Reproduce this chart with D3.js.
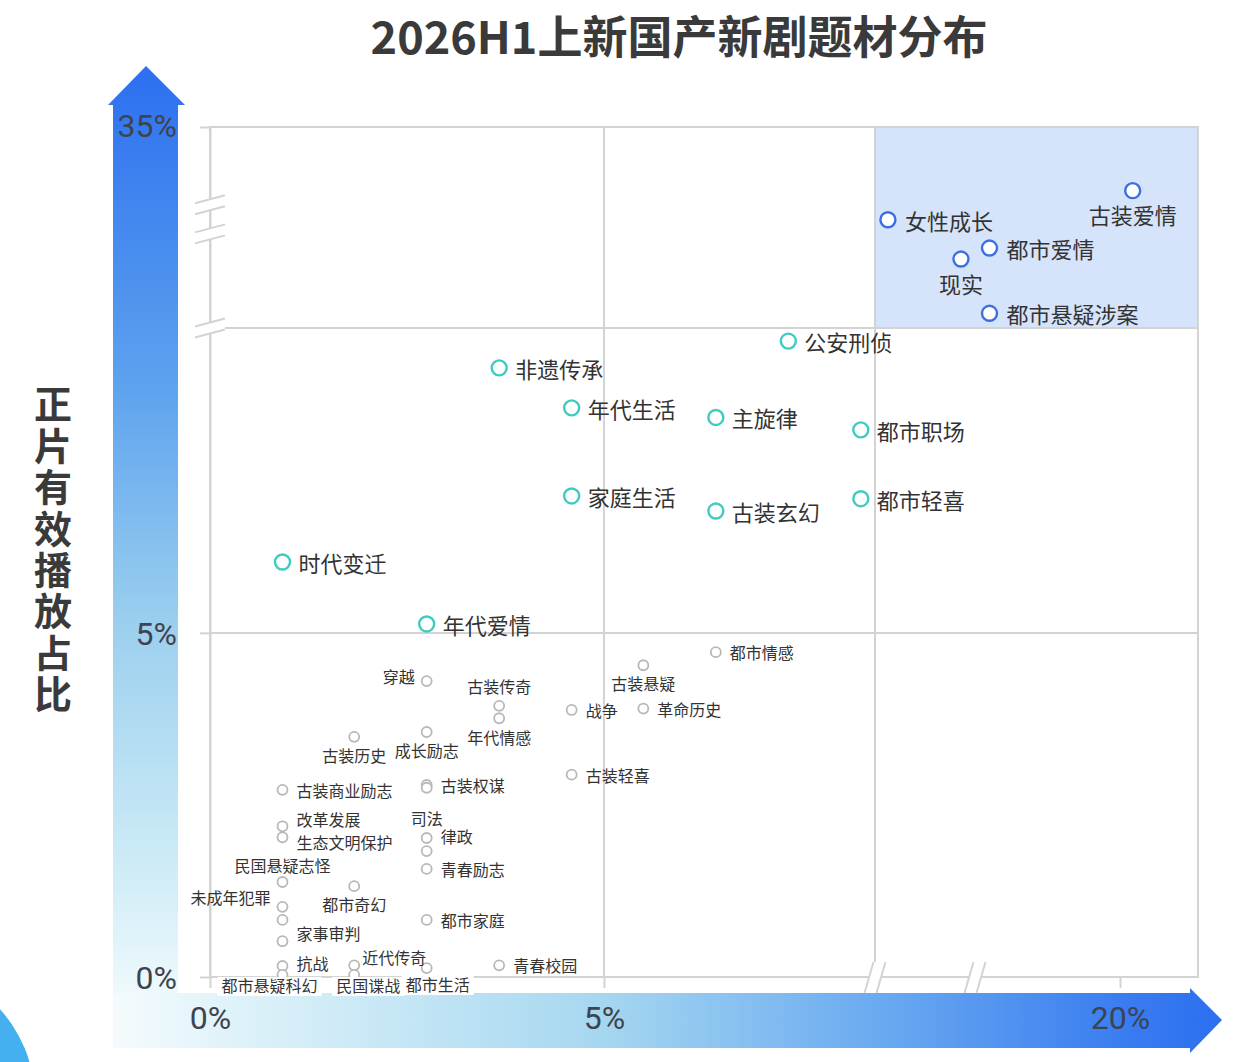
<!DOCTYPE html>
<html><head><meta charset="utf-8">
<script src="https://cdn.jsdelivr.net/npm/d3@7"></script>
<style>body{margin:0;background:#fff;} svg{display:block;}</style>
</head><body>
<svg id="chart" width="1234" height="1062"></svg>
<script>
// ---------- data ----------
const chartTitle = "2026H1上新国产新剧题材分布";
const yTitle = "正片有效播放占比";

const xTickValues = [0, 5, 20];
const xTickLabels = ["0%", "5%", "20%"];
const yTickValues = [0, 5, 35];
const yTickLabels = ["0%", "5%", "35%"];

// tier 1 (high share)
const topNames = ["古装爱情", "女性成长", "都市爱情", "现实", "都市悬疑涉案"];
const topX = [20.7, 8.9, 12.8, 11.5, 12.8];
const topY = [26.9, 23.2, 19.6, 18.2, 11.3];

// tier 2
const midNames = ["公安刑侦", "非遗传承", "年代生活", "主旋律", "都市职场", "家庭生活", "古装玄幻", "都市轻喜", "时代变迁", "年代爱情"];
const midX = [7.34, 3.67, 4.59, 6.42, 8.26, 4.59, 6.42, 8.26, 0.92, 2.75];
const midY = [9.24, 8.85, 8.27, 8.13, 7.95, 6.99, 6.77, 6.95, 6.03, 5.13];

// tier 3
const lowNames = ["都市情感", "古装悬疑", "穿越", "古装传奇", "战争", "革命历史", "年代情感", "成长励志", "古装历史", "古装轻喜",
  "古装商业励志", "古装权谋", "", "改革发展", "生态文明保护", "司法", "律政", "青春励志", "民国悬疑志怪", "都市奇幻",
  "未成年犯罪", "家事审判", "", "都市家庭", "抗战", "都市悬疑科幻", "近代传奇", "民国谍战", "都市生活", "青春校园"];
const lowX = [6.42, 5.50, 2.75, 3.67, 4.59, 5.50, 3.67, 2.75, 1.83, 4.59,
  0.92, 2.75, 2.75, 0.92, 0.92, 2.75, 2.75, 2.75, 0.92, 1.83,
  0.92, 0.92, 0.92, 2.75, 0.92, 0.92, 1.83, 1.83, 2.75, 3.67];
const lowY = [4.72, 4.53, 4.30, 3.94, 3.88, 3.90, 3.76, 3.56, 3.49, 2.94,
  2.72, 2.79, 2.75, 2.19, 2.03, 2.02, 1.83, 1.57, 1.38, 1.32,
  1.02, 0.83, 0.52, 0.83, 0.16, 0.03, 0.17, 0.03, 0.13, 0.17];

// ---------- layout (not data) ----------
const W = 1234, H = 1062;
const xMax = 24.3, yMax = 35;
const xBreaks = [8.44, 12];
const yBreaks = [9.43, 21.4, 25.1];

// label placement: [anchor, dx, dy, whiteBg]
const labelPlace = {
  "古装爱情": ["middle", 0, 23], "现实": ["middle", 0, 24],
  "古装悬疑": ["middle", 0, 18], "穿越": ["end", -12, -5], "古装传奇": ["middle", 0, -20],
  "年代情感": ["middle", 0, 19], "成长励志": ["middle", 0, 18], "古装历史": ["middle", 0, 18],
  "改革发展": ["start", 14, -7], "生态文明保护": ["start", 14, 5], "司法": ["middle", 0, -20],
  "律政": ["start", 14, -15], "民国悬疑志怪": ["middle", 0, -17], "都市奇幻": ["middle", 0, 18],
  "未成年犯罪": ["end", -12, -10], "家事审判": ["start", 14, 13], "抗战": ["start", 14, -3],
  "近代传奇": ["start", 8, -8], "都市悬疑科幻": ["middle", -13, 10, true],
  "民国谍战": ["middle", 14, 10, true], "都市生活": ["middle", 11, 16, true]
};

const svg = d3.select("#chart");
const defs = svg.append("defs");

const x = d3.scaleLinear().domain([0, 8.44, 12, 20]).range([210, 875, 975, 1120]);
const y = d3.scaleLinear().domain([0, 9.43, 35]).range([977, 328, 127]);

const X0 = x(0), X1 = x(xMax), Y0 = y(0), Y1 = y(yMax);

// gradients
const gy = defs.append("linearGradient").attr("id", "gy").attr("x1", 0).attr("y1", 0).attr("x2", 0).attr("y2", 1);
[[0, "#2c6ff0"], [0.35, "#5ea3ee"], [0.6, "#9bcfee"], [0.85, "#cbeaf6"], [1, "#eef9fc"]]
  .forEach(([o, c]) => gy.append("stop").attr("offset", o).attr("stop-color", c));
const gx = defs.append("linearGradient").attr("id", "gx").attr("x1", 0).attr("y1", 0).attr("x2", 1).attr("y2", 0);
[[0, "#f5fbfd"], [0.09, "#e2f4fa"], [0.44, "#a6d7f0"], [0.69, "#6aaaf0"], [0.91, "#3a7df0"], [1, "#2c6ff0"]]
  .forEach(([o, c]) => gx.append("stop").attr("offset", o).attr("stop-color", c));

// decoration circle bottom-left
svg.append("circle").attr("cx", -100).attr("cy", 1100).attr("r", 135).attr("fill", "#45b0ef");

// y arrow
const yArrow = d3.path();
yArrow.moveTo(113, 993); yArrow.lineTo(113, 105); yArrow.lineTo(108, 105); yArrow.lineTo(146, 66);
yArrow.lineTo(185, 105); yArrow.lineTo(178, 105); yArrow.lineTo(178, 993); yArrow.closePath();
svg.append("path").attr("d", yArrow.toString()).attr("fill", "url(#gy)");

// x arrow
const xArrow = d3.path();
xArrow.moveTo(113, 993); xArrow.lineTo(1190, 993); xArrow.lineTo(1190, 988); xArrow.lineTo(1222, 1020);
xArrow.lineTo(1190, 1053); xArrow.lineTo(1190, 1048); xArrow.lineTo(113, 1048); xArrow.closePath();
svg.append("path").attr("d", xArrow.toString()).attr("fill", "url(#gx)");

// highlight quadrant
svg.append("rect").attr("x", x(xBreaks[0])).attr("y", Y1)
  .attr("width", X1 - x(xBreaks[0])).attr("height", y(yBreaks[0]) - Y1).attr("fill", "#d5e3fb");

const gridColor = "#d3d3d3";
// grid
const g = svg.append("g").attr("stroke", gridColor).attr("stroke-width", 2).attr("fill", "none");
[5, xBreaks[0]].forEach(v => g.append("line").attr("x1", x(v)).attr("x2", x(v)).attr("y1", Y1).attr("y2", Y0));
[5, yBreaks[0]].forEach(v => g.append("line").attr("x1", X0).attr("x2", X1).attr("y1", y(v)).attr("y2", y(v)));
g.append("rect").attr("x", X0).attr("y", Y1).attr("width", X1 - X0).attr("height", Y0 - Y1);

// axes
const yAxis = d3.axisLeft(y).tickValues(yTickValues).tickSize(10).tickSizeOuter(0).tickPadding(23)
  .tickFormat((d, i) => yTickLabels[i]);
const ya = svg.append("g").attr("transform", `translate(${X0},0)`).call(yAxis);
ya.select(".domain").attr("stroke", gridColor).attr("stroke-width", 2);
ya.selectAll(".tick line").attr("stroke", gridColor).attr("stroke-width", 2);
ya.selectAll(".tick text").attr("font-family", "Roboto, 'Noto Sans'").attr("font-size", 32)
  .attr("fill", "#3d4451").attr("dy", "0.35em");
ya.selectAll(".tick").filter(d => d === yMax).select("text").attr("dy", "0.3em");

const xAxis = d3.axisBottom(x).tickValues(xTickValues).tickSize(11).tickSizeOuter(0)
  .tickFormat((d, i) => xTickLabels[i]);
const xa = svg.append("g").attr("transform", `translate(0,${Y0})`).call(xAxis);
xa.select(".domain").remove();
xa.selectAll(".tick line").attr("stroke", gridColor).attr("stroke-width", 2);
xa.selectAll(".tick text").attr("font-family", "Roboto, 'Noto Sans'").attr("font-size", 32)
  .attr("fill", "#3d4451").attr("y", 41).attr("dy", "0.35em");

// break marks
const bk = svg.append("g");
yBreaks.forEach(v => {
  const c = y(v);
  bk.append("path").attr("d", `M195,${c - 5.5 + 4}L225,${c - 5.5 - 4}L225,${c + 5.5 - 4}L195,${c + 5.5 + 4}Z`).attr("fill", "#fff");
  [-5.5, 5.5].forEach(o => bk.append("line").attr("x1", 195).attr("y1", c + o + 4).attr("x2", 225).attr("y2", c + o - 4)
    .attr("stroke", gridColor).attr("stroke-width", 2));
});
xBreaks.forEach(v => {
  const c = x(v);
  bk.append("path").attr("d", `M${c - 6 - 4.5},993L${c - 6 + 4.5},962L${c + 6 + 4.5},962L${c + 6 - 4.5},993Z`).attr("fill", "#fff");
  [-6, 6].forEach(o => bk.append("line").attr("x1", c + o - 4.5).attr("y1", 993).attr("x2", c + o + 4.5).attr("y2", 962)
    .attr("stroke", gridColor).attr("stroke-width", 2));
});

// points
function tier(names, xs, ys, style) {
  const data = names.map((n, i) => ({ name: n, x: xs[i], y: ys[i] }));
  const gg = svg.append("g");
  gg.selectAll("circle").data(data).join("circle")
    .attr("cx", d => x(d.x)).attr("cy", d => y(d.y)).attr("r", style.r)
    .attr("fill", "#fff").attr("stroke", style.color).attr("stroke-width", style.sw);
  return data;
}
const topData = tier(topNames, topX, topY, { r: 7.5, color: "#3b6fe3", sw: 2.4 });
const midData = tier(midNames, midX, midY, { r: 7.5, color: "#3ecbc0", sw: 2.4 });
const lowData = tier(lowNames, lowX, lowY, { r: 5, color: "#b8b8b8", sw: 1.8 });

function labels(data, fs, dxDefault) {
  const lg = svg.append("g").attr("font-family", "'Noto Sans CJK SC', 'Noto Sans', sans-serif")
    .attr("font-size", fs).attr("fill", "#333");
  data.filter(d => d.name).forEach(d => {
    const p = labelPlace[d.name] || ["start", dxDefault, 0];
    const tx = x(d.x) + p[1], ty = y(d.y) + p[2];
    const t = lg.append("text").attr("x", tx).attr("y", ty).attr("text-anchor", p[0])
      .attr("dominant-baseline", "central").text(d.name);
    if (p[3]) {
      const b = t.node().getBBox();
      lg.insert("rect", () => t.node()).attr("x", b.x - 4).attr("y", ty - 8)
        .attr("width", b.width + 8).attr("height", 19).attr("fill", "#fff");
    }
  });
}
labels(topData, 22, 17);
labels(midData, 22, 16);
labels(lowData, 16, 14);

// title
svg.append("text").attr("x", 679).attr("y", 34).attr("text-anchor", "middle").attr("dominant-baseline", "central")
  .attr("font-family", "'Noto Sans CJK SC', sans-serif").attr("font-weight", 700).attr("font-size", 45)
  .attr("fill", "#3a3a3a").text(chartTitle);

// y title (vertical, single text)
svg.append("text").attr("x", 53).attr("y", 385)
  .style("writing-mode", "vertical-rl").style("text-orientation", "upright")
  .attr("font-family", "'Noto Sans CJK SC', sans-serif").attr("font-weight", 700).attr("font-size", 38)
  .attr("letter-spacing", 3.4).attr("fill", "#3a3a3a").text(yTitle);
</script>
</body></html>
